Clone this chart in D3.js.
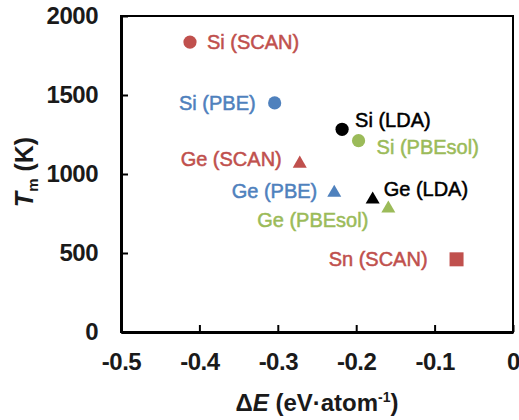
<!DOCTYPE html>
<html>
<head>
<meta charset="utf-8">
<script src="https://cdn.jsdelivr.net/npm/d3@7"></script>
<style>
	body { margin: 0; background: #fff; }
	svg text { font-family: "Liberation Sans", Arial, Helvetica, sans-serif; }
</style>
</head>
<body>
<svg id="chart" width="519" height="420"></svg>
<script>
// data
var elements = ['Si', 'Si', 'Si', 'Si', 'Ge', 'Ge', 'Ge', 'Ge', 'Sn'];
var functionals = ['SCAN', 'PBE', 'LDA', 'PBEsol', 'SCAN', 'PBE', 'LDA', 'PBEsol', 'SCAN'];
var deltaE = [-0.412, -0.304, -0.218, -0.197, -0.272, -0.228, -0.179, -0.159, -0.072];
var meltT = [1835, 1450, 1283, 1211, 1078, 894, 851, 794, 460];
var xTicks = [-0.5, -0.4, -0.3, -0.2, -0.1, 0];
var yTicks = [0, 500, 1000, 1500, 2000];

// label placement next to each marker (px), kept apart from the data
var labelPos = [
	{dx: 17, dy: 0, anchor: 'start'},
	{dx: -19, dy: 0, anchor: 'end'},
	{dx: 13, dy: -9, anchor: 'start'},
	{dx: 18, dy: 6, anchor: 'start'},
	{dx: -18, dy: -3, anchor: 'end'},
	{dx: -17, dy: 0, anchor: 'end'},
	{dx: 11, dy: -9, anchor: 'start'},
	{dx: -20, dy: 13, anchor: 'end'},
	{dx: -29, dy: 0, anchor: 'end'}
];

const colors = {SCAN: '#c0504d', PBE: '#4f81bd', LDA: '#000000', PBEsol: '#9bbb59'};
const margin = {top: 16, right: 6, bottom: 88, left: 121};
const width = 519, height = 420;

const svg = d3.select('#chart');

const x = d3.scaleLinear()
	.domain([-0.5, 0])
	.range([margin.left, width - margin.right]);
const y = d3.scaleLinear()
	.domain([0, 2000])
	.range([height - margin.bottom, margin.top]);

// thin frame (top / right)
svg.append('rect')
	.attr('x', x(-0.5))
	.attr('y', y(2000))
	.attr('width', x(0) - x(-0.5))
	.attr('height', y(0) - y(2000))
	.attr('fill', 'none')
	.attr('stroke', '#000')
	.attr('stroke-width', 2);

const fmtX = d => (Math.abs(d) < 1e-9) ? '0' : d.toFixed(1);

const xAxis = g => g
	.attr('transform', `translate(0, ${y(0)})`)
	.call(d3.axisBottom(x).tickValues(xTicks).tickFormat(fmtX).tickSizeInner(-7).tickSizeOuter(0).tickPadding(21))
	.call(g => g.select('.domain').attr('stroke-width', 3))
	.call(g => g.selectAll('.tick line').attr('stroke-width', 2))
	.call(g => g.selectAll('text')
		.attr('fill', '#1a1a1a')
		.style('font-size', '24px')
		.style('font-weight', 'bold')
		.style('letter-spacing', '-0.5px'));

const yAxis = g => g
	.attr('transform', `translate(${x(-0.5)}, 0)`)
	.call(d3.axisLeft(y).tickValues(yTicks).tickFormat(d3.format('d')).tickSizeInner(-7).tickSizeOuter(0).tickPadding(23))
	.call(g => g.select('.domain').attr('stroke-width', 3))
	.call(g => g.selectAll('.tick line').attr('stroke-width', 2))
	.call(g => g.selectAll('text')
		.attr('fill', '#1a1a1a')
		.style('font-size', '24px')
		.style('font-weight', 'bold')
		.style('letter-spacing', '-0.5px'));

svg.append('g').call(xAxis);
svg.append('g').call(yAxis);

// markers
const tri = d3.symbol().type(d3.symbolTriangle).size(85);
const circ = d3.symbol().type(d3.symbolCircle).size(137);
const sq = d3.symbol().type(d3.symbolSquare).size(196);

const points = deltaE.map((d, i) => ({
	x: d, y: meltT[i], el: elements[i], fn: functionals[i],
	label: elements[i] + ' (' + functionals[i] + ')', pos: labelPos[i]
}));

const marks = svg.append('g').attr('class', 'marks');
points.forEach(p => {
	var path = p.el === 'Si' ? circ() : (p.el === 'Ge' ? tri() : sq());
	var shift = p.el === 'Ge' ? 2 : 0; // centre triangle on its box
	marks.append('path')
		.attr('d', path)
		.attr('transform', `translate(${x(p.x)}, ${y(p.y) + shift})`)
		.attr('fill', colors[p.fn]);
	marks.append('text')
		.attr('x', x(p.x) + p.pos.dx)
		.attr('y', y(p.y) + p.pos.dy)
		.attr('dy', '0.35em')
		.attr('text-anchor', p.pos.anchor)
		.attr('fill', colors[p.fn])
		.attr('stroke', colors[p.fn])
		.attr('stroke-width', 0.5)
		.style('font-size', '20px')
		.text(p.label);
});

// axis titles
const xt = svg.append('text')
	.attr('x', (x(-0.5) + x(0)) / 2)
	.attr('y', 411)
	.attr('text-anchor', 'middle')
	.attr('fill', '#1a1a1a')
	.style('font-size', '24px')
	.style('font-weight', 'bold');
xt.append('tspan').text('\u0394');
xt.append('tspan').style('font-style', 'italic').text('E');
xt.append('tspan').text(' (eV\u00b7atom');
xt.append('tspan').attr('dy', -9).style('font-size', '14px').text('-1');
xt.append('tspan').attr('dy', 9).text(')');

const yt = svg.append('text')
	.attr('transform', 'translate(33, 172) rotate(-90)')
	.attr('text-anchor', 'middle')
	.attr('fill', '#1a1a1a')
	.style('font-size', '25px')
	.style('font-weight', 'bold');
yt.append('tspan').style('font-style', 'italic').text('T');
yt.append('tspan').attr('dy', 5).style('font-size', '15px').text('m');
yt.append('tspan').attr('dy', -5).text(' (K)');
</script>
</body>
</html>
